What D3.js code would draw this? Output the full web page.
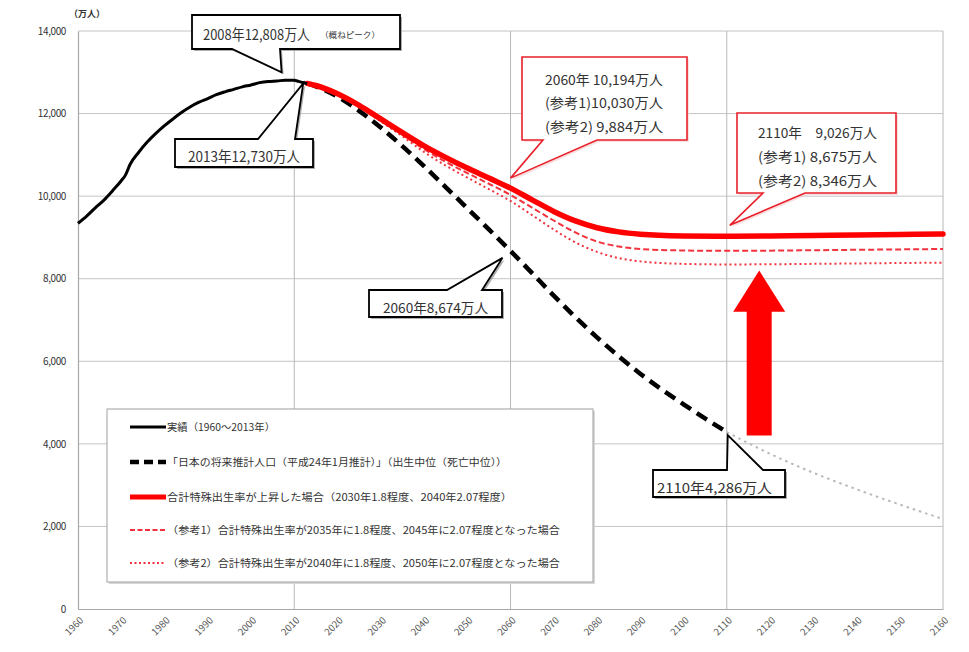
<!DOCTYPE html>
<html>
<head>
<meta charset="utf-8">
<script src="https://cdn.jsdelivr.net/npm/d3@7/dist/d3.min.js"></script>
<style>
  html, body { margin: 0; padding: 0; background: #fff; }
  svg { display: block; }
  text { font-family: "Noto Sans CJK JP", "Noto Sans", sans-serif; }
</style>
</head>
<body>
<svg id="chart" width="969" height="652"></svg>
<script>
// ---------------- DATA ----------------
const yTicks = [0, 2000, 4000, 6000, 8000, 10000, 12000, 14000];
const xTicks = [1960,1970,1980,1990,2000,2010,2020,2030,2040,2050,2060,2070,2080,2090,2100,2110,2120,2130,2140,2150,2160];
const xGridYears = [2010, 2060, 2110, 2160];

const actualYears  = [1960,1962,1964,1966,1968,1970,1971,1972,1974,1976,1978,1980,1982,1984,1986,1988,1990,1992,1994,1996,1998,2000,2002,2004,2006,2008,2010,2011,2012,2013];
const actualValues = [9342,9518,9718,9904,10133,10372,10515,10760,11057,11309,11519,11706,11873,12031,12166,12275,12361,12457,12527,12586,12647,12693,12749,12779,12790,12808,12806,12780,12752,12730];

const baseYears  = [2013,2015,2020,2025,2030,2035,2040,2045,2050,2055,2060,2065,2070,2080,2090,2100,2110];
const baseValues = [12730,12660,12410,12066,11662,11212,10728,10221,9708,9193,8674,8135,7590,6580,5700,4959,4286];

const extYears  = [2110,2120,2130,2140,2150,2160];
const extValues = [4286,3760,3300,2900,2530,2180];

const scenYears = [2013,2015,2020,2025,2030,2035,2040,2045,2050,2055,2060,2065,2070,2075,2080,2085,2090,2100,2110,2120,2130,2140,2150,2160];
const scenMain  = [12730,12680,12480,12200,11870,11540,11220,10940,10680,10440,10194,9910,9630,9400,9235,9135,9078,9035,9026,9035,9045,9058,9070,9085];
const scenRef1  = [12730,12680,12470,12180,11840,11490,11140,10830,10560,10300,10030,9720,9410,9120,8900,8780,8720,8684,8675,8680,8690,8700,8710,8720];
const scenRef2  = [12730,12680,12460,12160,11810,11450,11070,10740,10450,10170,9884,9540,9190,8880,8650,8500,8420,8360,8346,8350,8360,8370,8380,8390];

const legendLabels = [
  "実績（1960～2013年）",
  "「日本の将来推計人口（平成24年1月推計）」（出生中位（死亡中位））",
  "合計特殊出生率が上昇した場合（2030年1.8程度、2040年2.07程度）",
  "（参考1）合計特殊出生率が2035年に1.8程度、2045年に2.07程度となった場合",
  "（参考2）合計特殊出生率が2040年に1.8程度、2050年に2.07程度となった場合"
];

const unitLabel = "（万人）";

// callouts: tip anchored to data point
const callouts = [
  { year: 2008, value: 12808, lines: ["2008年12,808万人"], note: "（概ねピーク）", color: "#000" },
  { year: 2013, value: 12730, lines: ["2013年12,730万人"], color: "#000" },
  { year: 2060, value: 10194, lines: ["2060年 10,194万人", "(参考1)10,030万人", "(参考2) 9,884万人"], color: "#e8202a" },
  { year: 2110, value: 9026,  lines: ["2110年　9,026万人", "(参考1) 8,675万人", "(参考2) 8,346万人"], color: "#e8202a" },
  { year: 2060, value: 8674,  lines: ["2060年8,674万人"], color: "#000" },
  { year: 2110, value: 4286,  lines: ["2110年4,286万人"], color: "#000" }
];

// ---------------- LAYOUT ----------------
const svg = d3.select("#chart");
const pL = 78, pR = 943, pT = 31, pB = 609;

const x = d3.scaleLinear().domain([1960, 2160]).range([pL, pR]);
const y = d3.scaleLinear().domain([0, 14000]).range([pB, pT]);

// grid
const grid = svg.append("g");
grid.selectAll("line.h").data(yTicks.filter(d => d > 0)).enter().append("line")
  .attr("x1", pL).attr("x2", pR)
  .attr("y1", d => y(d)).attr("y2", d => y(d))
  .attr("stroke", "#c4c4c4").attr("stroke-width", 1);
grid.selectAll("line.v").data(xGridYears).enter().append("line")
  .attr("x1", d => x(d)).attr("x2", d => x(d))
  .attr("y1", pT).attr("y2", pB)
  .attr("stroke", "#b8b8b8").attr("stroke-width", 1);

// axes
const yAxis = d3.axisLeft(y).tickValues(yTicks).tickFormat(d3.format(",")).tickSize(0).tickPadding(12);
const gy = svg.append("g").attr("transform", `translate(${pL},0)`).call(yAxis);
gy.select(".domain").attr("stroke", "#a8a8a8").attr("stroke-width", 1.2);
gy.selectAll("text").attr("font-family", "Liberation Sans, Arial, sans-serif")
  .attr("font-size", 10).attr("fill", "#333").attr("letter-spacing", "-0.4");

const xAxis = d3.axisBottom(x).tickValues(xTicks).tickFormat("").tickSize(0);
const gx = svg.append("g").attr("transform", `translate(0,${pB})`).call(xAxis);
gx.select(".domain").attr("stroke", "#a8a8a8").attr("stroke-width", 1.2);

// diagonal year labels: each glyph placed along a 45° line and rotated
const fmtYear = d3.format("d");
const xFont = 9.5, adv = 0.556 * xFont * Math.SQRT1_2;
svg.append("g").selectAll("text").data(xTicks).enter().append("text")
  .attr("font-family", "Liberation Sans, Arial, sans-serif")
  .attr("font-size", xFont).attr("fill", "#555")
  .attr("x", d => { const s = fmtYear(d); const x0 = x(d) + 6 - s.length * adv; return s.split("").map((_, i) => (x0 + i * adv).toFixed(2)).join(" "); })
  .attr("y", d => { const s = fmtYear(d); const y0 = pB + 12 + s.length * adv; return s.split("").map((_, i) => (y0 - i * adv).toFixed(2)).join(" "); })
  .attr("rotate", d => fmtYear(d).split("").map(() => -45).join(" "))
  .text(fmtYear);

svg.append("text").attr("x", 87).attr("y", 17).attr("text-anchor", "middle")
  .attr("font-size", 9).attr("font-weight", "bold").attr("fill", "#333").text(unitLabel);

// lines
const line = d3.line().x(d => x(d[0])).y(d => y(d[1])).curve(d3.curveMonotoneX);
const zip = (a, b) => a.map((v, i) => [v, b[i]]);

const plot = svg.append("g");
plot.append("path").datum(zip(extYears, extValues)).attr("d", line)
  .attr("fill", "none").attr("stroke", "#b8b8b8").attr("stroke-width", 2).attr("stroke-dasharray", "2.5,4");
plot.append("path").datum(zip(baseYears, baseValues)).attr("d", line)
  .attr("fill", "none").attr("stroke", "#000").attr("stroke-width", 4.5).attr("stroke-dasharray", "12,7");
plot.append("path").datum(zip(scenYears, scenRef2)).attr("d", line)
  .attr("fill", "none").attr("stroke", "#f2323c").attr("stroke-width", 2).attr("stroke-dasharray", "2,3");
plot.append("path").datum(zip(scenYears, scenRef1)).attr("d", line)
  .attr("fill", "none").attr("stroke", "#f2323c").attr("stroke-width", 2).attr("stroke-dasharray", "6,3");
plot.append("path").datum(zip(scenYears, scenMain)).attr("d", line)
  .attr("fill", "none").attr("stroke", "#ff0000").attr("stroke-width", 5.5).attr("stroke-linecap", "round");
plot.append("path").datum(zip(actualYears, actualValues)).attr("d", line)
  .attr("fill", "none").attr("stroke", "#000").attr("stroke-width", 3);

// big red arrow (between 2110 levels)
const ax = x(2117.5);
const aTop = y(8200), aBase = y(7200), aBot = y(4200);
svg.append("path")
  .attr("d", `M${ax},${aTop} L${ax+26},${aBase} L${ax+12.5},${aBase} L${ax+12.5},${aBot} L${ax-12.5},${aBot} L${ax-12.5},${aBase} L${ax-26},${aBase} Z`)
  .attr("fill", "#ff0000");

// legend
const lg = svg.append("g");
lg.append("rect").attr("x", 109).attr("y", 411).attr("width", 486).attr("height", 173).attr("fill", "#d8d8d8");
lg.append("rect").attr("x", 107).attr("y", 409).attr("width", 486).attr("height", 173)
  .attr("fill", "#fff").attr("stroke", "#a0a0a0").attr("stroke-width", 1);
const legStyles = [
  { stroke: "#000", w: 3, dash: null },
  { stroke: "#000", w: 4.5, dash: "9,5" },
  { stroke: "#ff0000", w: 5, dash: null },
  { stroke: "#f2323c", w: 2, dash: "5,2.5" },
  { stroke: "#f2323c", w: 2, dash: "2,2.5" }
];
const legWidths = [108, 340, 345, 393, 393];
const legY = [427, 462, 497, 530, 563];
legendLabels.forEach((t, i) => {
  const s = legStyles[i];
  lg.append("line").attr("x1", 130).attr("x2", 166).attr("y1", legY[i]).attr("y2", legY[i])
    .attr("stroke", s.stroke).attr("stroke-width", s.w).attr("stroke-dasharray", s.dash);
  lg.append("text").attr("x", 167).attr("y", legY[i] + 3.5)
    .attr("font-size", 10).attr("fill", "#333")
    .attr("textLength", legWidths[i]).attr("lengthAdjust", "spacingAndGlyphs").text(t);
});

// callout geometry (layout in px; tips from data scales)
const tipOffsets = [[-4,-8],[-4,0],[0,-10],[3,-11],[-8,7],[1,3]];
const boxes = [
  { x0:192, y0:15, x1:400, y1:49, side:"bottom", b0:232, b1:280 },
  { x0:175, y0:139, x1:313, y1:167, side:"top", b0:258, b1:295 },
  { x0:522, y0:57, x1:687, y1:140, side:"bottom", b0:543, b1:597 },
  { x0:737, y0:113, x1:896, y1:193, side:"bottom", b0:763, b1:805 },
  { x0:369, y0:290, x1:502, y1:317, side:"top", b0:447, b1:482 },
  { x0:653, y0:470, x1:785, y1:497, side:"top", b0:727, b1:763 }
];
const textLayout = [
  { x:203, ys:[40], w:107, fs:14.5 },
  { x:188, ys:[162], w:112, fs:14.5 },
  { x:545, ys:[85,108,132], w:118, fs:13.5 },
  { x:758, ys:[138,162,186], w:119, fs:13.5 },
  { x:383, ys:[313], w:105, fs:13.5 },
  { x:657, ys:[493], w:115, fs:13.5 }
];

const cg = svg.append("g");
callouts.forEach((c, i) => {
  const b = boxes[i];
  const tx = x(c.year) + tipOffsets[i][0];
  const ty = y(c.value) + tipOffsets[i][1];
  let pts;
  if (b.side === "bottom") {
    pts = [[b.x0,b.y0],[b.x1,b.y0],[b.x1,b.y1],[b.b1,b.y1],[tx,ty],[b.b0,b.y1],[b.x0,b.y1]];
  } else {
    pts = [[b.x0,b.y0],[b.b0,b.y0],[tx,ty],[b.b1,b.y0],[b.x1,b.y0],[b.x1,b.y1],[b.x0,b.y1]];
  }
  const d = "M" + pts.map(p => p.join(",")).join("L") + "Z";
  const isRed = c.color !== "#000";
  cg.append("path").attr("d", d).attr("transform", "translate(2,2)")
    .attr("fill", isRed ? "#f4c9cb" : "#9a9a9a").attr("opacity", isRed ? 0.6 : 0.8);
  cg.append("path").attr("d", d).attr("fill", "#fff")
    .attr("stroke", c.color).attr("stroke-width", isRed ? 1.6 : 1.8).attr("stroke-linejoin", "miter");
  const tl = textLayout[i];
  c.lines.forEach((ln, j) => {
    cg.append("text").attr("x", tl.x).attr("y", tl.ys[j])
      .attr("font-size", tl.fs).attr("fill", "#333")
      .attr("textLength", tl.w).attr("lengthAdjust", "spacingAndGlyphs").text(ln);
  });
  if (c.note) {
    cg.append("text").attr("x", 320).attr("y", 38).attr("font-size", 8).attr("fill", "#333")
      .attr("textLength", 60).attr("lengthAdjust", "spacingAndGlyphs").text(c.note);
  }
});
</script>
</body>
</html>
